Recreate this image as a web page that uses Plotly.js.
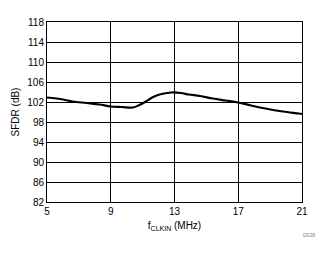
<!DOCTYPE html>
<html><head><meta charset="utf-8">
<script src="https://cdn.plot.ly/plotly-3.0.1.min.js"></script>
<style>body{margin:0;padding:0;background:#fff}#chart{width:330px;height:254px}</style>
</head><body><div id="chart"></div>
<script>
var freqMHz = [5, 6, 6.6, 7.5, 8.3, 9, 9.7, 10.4, 10.8, 11.2, 11.6, 12.06, 12.8, 13.4, 13.9, 14.6, 15.4, 16.2, 17, 17.8, 18.7, 19.8, 20.8, 21];
var sfdrDb = [102.9, 102.5, 102.1, 101.8, 101.5, 101.1, 101.0, 100.9, 101.4, 102.1, 102.9, 103.5, 103.9, 103.8, 103.5, 103.2, 102.7, 102.3, 101.9, 101.3, 100.7, 100.1, 99.7, 99.6];
var xTicks = [5, 9, 13, 17, 21];
var yTicks = [82, 86, 90, 94, 98, 102, 106, 110, 114, 118];

var trace = {x: freqMHz, y: sfdrDb, mode: 'lines', line: {color: '#000', width: 2.2, shape: 'spline'}, hoverinfo: 'none'};
var layout = {
  width: 330, height: 254,
  margin: {l: 47, r: 28, t: 22, b: 52},
  paper_bgcolor: '#fff', plot_bgcolor: '#fff',
  showlegend: false,
  font: {family: 'Liberation Sans, Arial, sans-serif', size: 10, color: '#000'},
  xaxis: {range: [5, 21], tickvals: xTicks, ticktext: xTicks.map(String), showgrid: true, gridcolor: '#000', gridwidth: 1,
    showline: true, linecolor: '#000', linewidth: 1, mirror: true, zeroline: false, ticks: '', ticklen: 0,
    title: {text: 'f<sub>CLKIN</sub> (MHz)', font: {size: 10}, standoff: 5}},
  yaxis: {range: [82, 118], tickvals: yTicks, ticktext: yTicks.map(String), showgrid: true, gridcolor: '#000', gridwidth: 1,
    showline: true, linecolor: '#000', linewidth: 1, mirror: true, zeroline: false, ticks: '', ticklen: 0,
    title: {text: 'SFDR (dB)', font: {size: 10}, standoff: 5}},
  annotations: [{text: 'D028', xref: 'paper', yref: 'paper', x: 1.06, y: -0.155, xanchor: 'right', yanchor: 'top', showarrow: false, font: {size: 5, color: '#777'}}]
};
Plotly.newPlot('chart', [trace], layout, {displayModeBar: false, staticPlot: true});
</script></body></html>
